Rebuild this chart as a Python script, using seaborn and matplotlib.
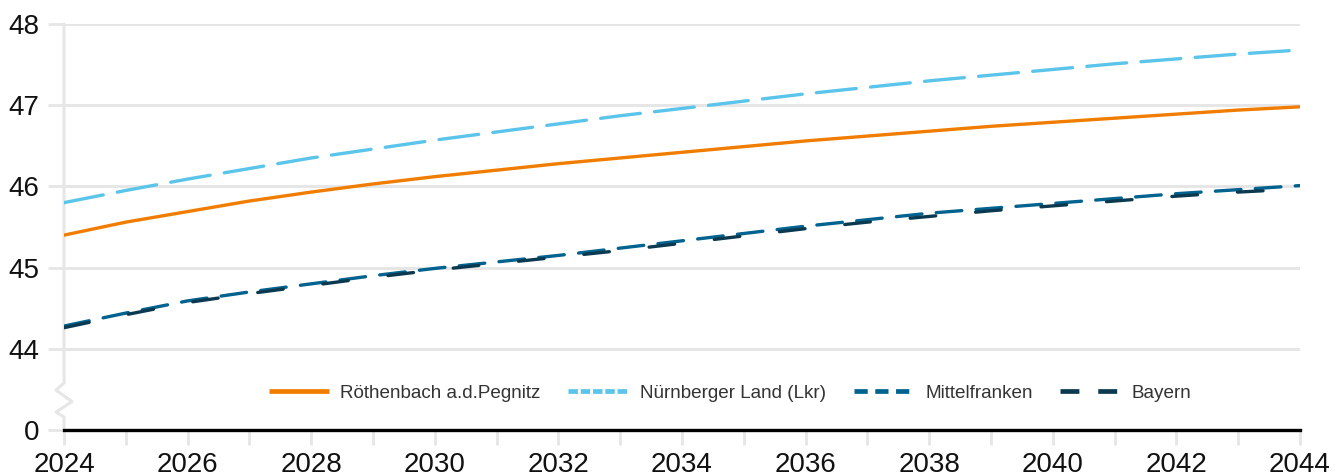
import numpy as np
import pandas as pd
import matplotlib
matplotlib.use("Agg")
import matplotlib.pyplot as plt
import seaborn as sns

# Data
years = list(range(2024, 2045))
roethenbach = [45.40, 45.56, 45.69, 45.82, 45.93, 46.03, 46.12, 46.20, 46.28, 46.35, 46.42,
               46.49, 46.56, 46.62, 46.68, 46.74, 46.79, 46.84, 46.89, 46.94, 46.98]
nuernberger_land = [45.80, 45.95, 46.09, 46.22, 46.35, 46.46, 46.57, 46.67, 46.77, 46.87, 46.96,
                    47.05, 47.14, 47.22, 47.30, 47.37, 47.44, 47.51, 47.57, 47.63, 47.68]
mittelfranken = [44.28, 44.44, 44.59, 44.70, 44.80, 44.90, 44.99, 45.07, 45.15, 45.24, 45.33,
                 45.42, 45.51, 45.59, 45.67, 45.73, 45.79, 45.85, 45.91, 45.96, 46.01]
bayern = [44.26, 44.42, 44.57, 44.68, 44.78, 44.88, 44.97, 45.05, 45.13, 45.21, 45.30,
          45.39, 45.48, 45.56, 45.63, 45.70, 45.76, 45.82, 45.88, 45.93, 45.97]

series_names = ["Röthenbach a.d.Pegnitz", "Nürnberger Land (Lkr)", "Mittelfranken", "Bayern"]
series_values = [roethenbach, nuernberger_land, mittelfranken, bayern]
colors = ["#F07D00", "#5BC4EA", "#00628F", "#0B3950"]

# broken axis: the "0" tick sits one unit below 44
y_ticks = [43, 44, 45, 46, 47, 48]
y_tick_labels = ["0", "44", "45", "46", "47", "48"]

rows = []
for name, vals in zip(series_names, series_values):
    for yr, v in zip(years, vals):
        rows.append({"Jahr": yr, "Wert": v, "Gebiet": name})
df = pd.DataFrame(rows)

sns.set_theme(style="white")
plt.rcParams["font.family"] = ["Liberation Sans", "DejaVu Sans"]

fig = plt.figure(figsize=(13.35, 4.76), dpi=100)
ax = fig.add_axes([64 / 1335, 46 / 476, 1236 / 1335, 406 / 476])

grid_col = "#e6e6e6"
ax.set_axisbelow(True)
for t in y_ticks[1:]:
    ax.axhline(t, color=grid_col, lw=2.2, zorder=0)

lw = 2.4
dash_map = {
    "Röthenbach a.d.Pegnitz": "",
    "Nürnberger Land (Lkr)": (12, 4.3),
    "Mittelfranken": (7.7, 4.3),
    "Bayern": (7.7, 12),
}
sns.lineplot(data=df, x="Jahr", y="Wert", hue="Gebiet", style="Gebiet",
             hue_order=series_names, style_order=series_names,
             palette=colors, dashes=dash_map, linewidth=lw, ax=ax, zorder=3)
for line in ax.get_lines():
    line.set_dash_capstyle("round")
    line.set_solid_capstyle("round")

ax.set_xlim(2024, 2044)
ax.set_ylim(43, 48)
ax.set_xlabel("")
ax.set_ylabel("")

ax.set_xticks(years)
ax.set_xticklabels([str(y) if y % 2 == 0 else "" for y in years], fontsize=20, color="#111111")
ax.set_yticks(y_ticks)
ax.set_yticklabels(y_tick_labels, fontsize=20, color="#111111")
ax.tick_params(axis="x", direction="out", length=11, width=2, color=grid_col, pad=4.5)
ax.tick_params(axis="y", direction="out", length=11.5, width=2, color=grid_col, pad=6)
ax.tick_params(axis="both", which="both", bottom=True, left=True)

for s in ["top", "right", "left"]:
    ax.spines[s].set_visible(False)
ax.spines["bottom"].set_color("black")
ax.spines["bottom"].set_linewidth(2.4)
ax.spines["bottom"].set_zorder(4)

# left axis line with zigzag break
tr = ax.get_yaxis_transform()
dx = 8 / 1236
zx = [0, 0, -dx, dx, -dx, 0, 0]
zy = [48, 43.58, 43.49, 43.35, 43.22, 43.16, 43]
ax.plot(zx, zy, transform=tr, color=grid_col, lw=2.2, clip_on=False, zorder=1)

handles, labels = ax.get_legend_handles_labels()
leg = ax.legend(handles, labels, ncol=4, frameon=False, loc="center",
                bbox_to_anchor=(0.539, 0.091), fontsize=13.6, labelcolor="#333333",
                handlelength=3.2, handletextpad=0.6, columnspacing=1.45)
legend_dashes = [None, (2.0, 0.6), (2.8, 1.6), (4.0, 4.0)]
for lh, d in zip(leg.get_lines(), legend_dashes):
    lh.set_linewidth(3.4)
    lh.set_dash_capstyle("butt")
    lh.set_solid_capstyle("butt")
    if d is None:
        lh.set_linestyle("-")
    else:
        lh.set_dashes(d)

fig.savefig("out.png", dpi=100)
